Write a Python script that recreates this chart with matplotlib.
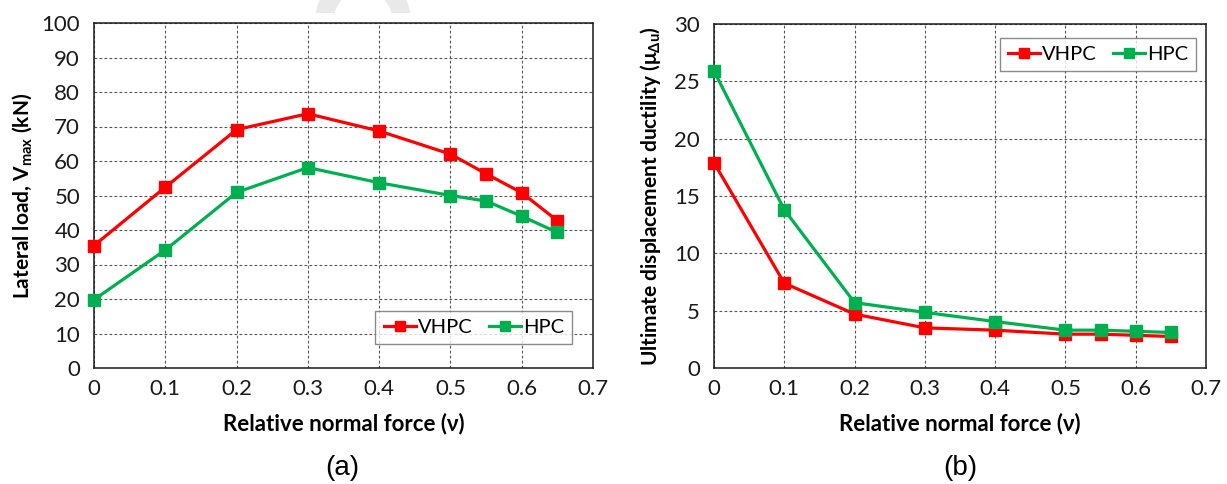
import matplotlib.pyplot as plt
from matplotlib.patches import Wedge, Rectangle

plt.rcParams['mathtext.fontset'] = 'custom'
plt.rcParams['mathtext.rm'] = 'Lato'
plt.rcParams['mathtext.bf'] = 'Lato:bold'
plt.rcParams['mathtext.fallback'] = 'stixsans'

# relative normal force values (v)
nu = [0, 0.1, 0.2, 0.3, 0.4, 0.5, 0.55, 0.6, 0.65]

# lateral load Vmax (kN)
vmax_vhpc = [35.5, 52.4, 69.1, 73.7, 68.7, 62.0, 56.3, 50.8, 42.7]
vmax_hpc = [19.8, 34.2, 50.9, 58.1, 53.7, 50.0, 48.4, 44.0, 39.3]

# ultimate displacement ductility
duct_vhpc = [17.9, 7.4, 4.7, 3.5, 3.3, 2.95, 2.95, 2.85, 2.75]
duct_hpc = [25.9, 13.8, 5.7, 4.85, 4.05, 3.3, 3.3, 3.2, 3.1]

xticks = [0, 0.1, 0.2, 0.3, 0.4, 0.5, 0.6, 0.7]
xticklabels = ['0', '0.1', '0.2', '0.3', '0.4', '0.5', '0.6', '0.7']

red = '#FF0000'
green = '#00B050'
fam = ['Lato', 'DejaVu Sans']

W, H = 1227.0, 484.0
fig = plt.figure(figsize=(W / 100, H / 100), dpi=100)

# faint grey arc in the background near the top
ring = Wedge((363, H - 20), 47, 0, 180, width=17, color='#e9e9e9', transform=None, zorder=0)
ring.set_clip_path(Rectangle((0, H - 13), W, 13, transform=None))
fig.patches.append(ring)

ax1 = fig.add_axes([94 / W, (H - 368) / H, 499 / W, 345 / H])
ax2 = fig.add_axes([714 / W, (H - 368) / H, 492 / W, 344 / H])


def style(ax, vh, hp, yticks, ylabel, ylab_x, leg_loc, leg_anchor):
    ax.plot(nu, vh, color=red, lw=2.3, marker='s', ms=9, label='VHPC', clip_on=False, zorder=3)
    ax.plot(nu, hp, color=green, lw=2.3, marker='s', ms=9, label='HPC', clip_on=False, zorder=3)
    ax.set_xlim(0, 0.7)
    ax.set_ylim(yticks[0], yticks[-1])
    ax.set_xticks(xticks)
    ax.set_xticklabels(xticklabels)
    ax.set_yticks(yticks)
    ax.grid(True, color='#555555', ls=(0, (2.5, 2)), lw=0.8)
    ax.tick_params(axis='y', length=0, labelsize=16, pad=10)
    ax.tick_params(axis='x', length=0, labelsize=16, pad=8)
    for t in ax.get_xticklabels() + ax.get_yticklabels():
        t.set_family(fam)
        t.set_color('#1a1a1a')
    for s in ax.spines.values():
        s.set_color('#1a1a1a')
        s.set_linewidth(1.1)
    ax.set_xlabel('Relative normal force (ν)', fontsize=16, fontweight='bold', family=fam)
    ax.xaxis.set_label_coords(0.5, -0.16)
    ax.xaxis.label.set_va('center')
    ax.set_ylabel(ylabel, fontsize=15, fontweight='bold', family=fam)
    ax.yaxis.set_label_coords(ylab_x, 0.5)
    ax.yaxis.label.set_va('center')
    leg = ax.legend(loc=leg_loc, bbox_to_anchor=leg_anchor, borderaxespad=0, ncol=2,
                    frameon=True, fancybox=False, edgecolor='#6e6e6e',
                    handlelength=1.6, handletextpad=0.1, columnspacing=0.8,
                    borderpad=0.4, markerscale=0.8,
                    prop={'family': fam, 'size': 14.5})
    leg.get_frame().set_linewidth(1.0)


style(ax1, vmax_vhpc, vmax_hpc, list(range(0, 101, 10)),
      r'Lateral load, V$_{\mathbf{max}}$ (kN)', -0.143, 'lower right', (0.958, 0.07))

style(ax2, duct_vhpc, duct_hpc, list(range(0, 31, 5)),
      r'Ultimate displacement ductility (μ$_{\mathbf{Δu}}$)', -0.13, 'upper right', (0.98, 0.959))

fig.text(342 / W, 1 - 468 / H, '(a)', fontsize=20, family='Liberation Sans', ha='center', va='center')
fig.text(960 / W, 1 - 468 / H, '(b)', fontsize=20, family='Liberation Sans', ha='center', va='center')

fig.savefig('out.png', dpi=100)
